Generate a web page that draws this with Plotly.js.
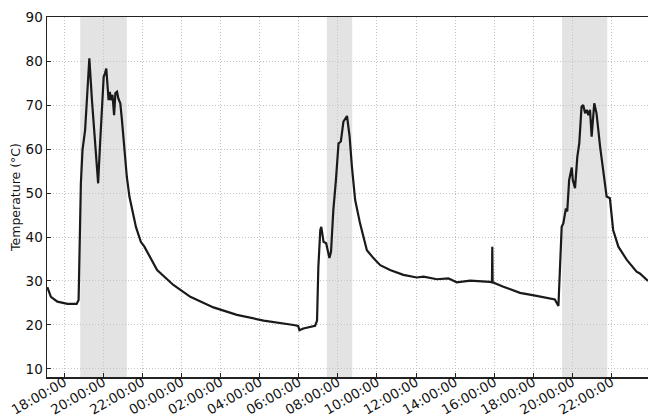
<!DOCTYPE html>
<html>
<head>
<meta charset="utf-8">
<script src="https://cdn.plot.ly/plotly-3.0.1.min.js"></script>
<style>
html,body{margin:0;padding:0;background:#fff;overflow:hidden;}
#chart{width:648px;height:418px;}
</style>
</head>
<body>
<div id="chart"></div>
<script>
// Timestamps of the temperature record
var times = [
"2014-06-10 17:08","2014-06-10 17:19","2014-06-10 17:39","2014-06-10 18:10","2014-06-10 18:38","2014-06-10 18:44",
"2014-06-10 18:51","2014-06-10 18:56","2014-06-10 19:04","2014-06-10 19:10","2014-06-10 19:17","2014-06-10 19:25",
"2014-06-10 19:32","2014-06-10 19:39","2014-06-10 19:44","2014-06-10 19:50","2014-06-10 19:56","2014-06-10 20:01",
"2014-06-10 20:05","2014-06-10 20:09","2014-06-10 20:13","2014-06-10 20:16","2014-06-10 20:20","2014-06-10 20:23",
"2014-06-10 20:28","2014-06-10 20:33","2014-06-10 20:37","2014-06-10 20:42","2014-06-10 20:46","2014-06-10 20:52",
"2014-06-10 20:57","2014-06-10 21:04","2014-06-10 21:12","2014-06-10 21:20","2014-06-10 21:30","2014-06-10 21:40",
"2014-06-10 21:55","2014-06-10 22:06","2014-06-10 22:45","2014-06-10 23:35","2014-06-11 00:27","2014-06-11 01:38",
"2014-06-11 02:50","2014-06-11 04:12","2014-06-11 05:44","2014-06-11 05:58","2014-06-11 06:02","2014-06-11 06:14",
"2014-06-11 06:50","2014-06-11 06:56","2014-06-11 07:00","2014-06-11 07:06","2014-06-11 07:09","2014-06-11 07:16",
"2014-06-11 07:24","2014-06-11 07:34","2014-06-11 07:39","2014-06-11 07:46","2014-06-11 07:54","2014-06-11 08:02",
"2014-06-11 08:09","2014-06-11 08:12","2014-06-11 08:17","2014-06-11 08:28","2014-06-11 08:36","2014-06-11 08:43",
"2014-06-11 08:53","2014-06-11 09:08","2014-06-11 09:29","2014-06-11 09:49","2014-06-11 10:10","2014-06-11 10:40",
"2014-06-11 11:21","2014-06-11 12:02","2014-06-11 12:23","2014-06-11 13:04","2014-06-11 13:39","2014-06-11 14:05",
"2014-06-11 14:46","2014-06-11 15:47","2014-06-11 15:53","2014-06-11 15:54","2014-06-11 15:55","2014-06-11 16:28",
"2014-06-11 17:19","2014-06-11 18:10","2014-06-11 19:06","2014-06-11 19:17","2014-06-11 19:24","2014-06-11 19:27",
"2014-06-11 19:32","2014-06-11 19:40","2014-06-11 19:44","2014-06-11 19:50","2014-06-11 19:58","2014-06-11 20:01",
"2014-06-11 20:08","2014-06-11 20:15","2014-06-11 20:21","2014-06-11 20:28","2014-06-11 20:33","2014-06-11 20:39",
"2014-06-11 20:44","2014-06-11 20:49","2014-06-11 20:54","2014-06-11 20:59","2014-06-11 21:07","2014-06-11 21:14",
"2014-06-11 21:25","2014-06-11 21:35","2014-06-11 21:45","2014-06-11 21:55","2014-06-11 22:05","2014-06-11 22:21",
"2014-06-11 22:47","2014-06-11 23:17","2014-06-11 23:27","2014-06-11 23:52"
];
// Temperature values (°C)
var temps = [
28.6,26.4,25.3,24.8,24.8,25.7,
52.2,59.8,64.3,71.1,80.6,71.1,
64.3,57.5,52.2,61.3,68.1,76.4,
77.2,78.3,74.2,71.1,73.0,71.1,
72.3,67.7,72.7,73.0,71.5,70.4,
66.6,59.8,53.7,49.2,45.4,42.3,
38.9,37.8,32.5,29.1,26.4,24.0,
22.3,21.0,20.0,19.8,18.8,19.2,
19.8,21.0,33.2,41.6,42.3,38.9,
38.6,35.2,36.7,46.1,53.0,61.3,
61.7,63.9,66.2,67.5,62.8,56.0,
48.4,43.1,37.0,35.2,33.6,32.5,
31.4,30.8,31.0,30.4,30.6,29.7,
30.1,29.8,29.7,37.8,29.7,28.7,
27.3,26.6,25.8,24.3,40.1,42.3,
43.1,46.5,45.8,53.0,55.8,53.0,
51.1,58.2,61.3,69.6,70.0,68.1,
68.9,67.7,68.9,62.8,70.4,68.1,
60.5,54.5,49.2,48.8,41.6,37.8,
34.8,32.1,31.7,30.0
];
// Shaded periods (start, end)
var shadeStarts = ["2014-06-10 18:49","2014-06-11 07:26","2014-06-11 19:28"];
var shadeEnds   = ["2014-06-10 21:12","2014-06-11 08:44","2014-06-11 21:47"];
var xRange = ["2014-06-10 17:07","2014-06-11 23:52"];
var yRange = [8.18, 90];
var yTicks = [10,20,30,40,50,60,70,80,90];

var shapes = shadeStarts.map(function(s,i){
  return {type:'rect', xref:'x', yref:'paper', x0:s, x1:shadeEnds[i], y0:0, y1:1,
          fillcolor:'#e3e3e3', line:{width:0}, layer:'below'};
});

var trace = {x:times, y:temps, type:'scatter', mode:'lines',
  line:{color:'#1a1a1a', width:2.2}, hoverinfo:'skip'};

var layout = {
  width:648, height:418,
  margin:{l:47, r:0, t:17, b:41},
  paper_bgcolor:'#ffffff', plot_bgcolor:'rgba(0,0,0,0)',
  showlegend:false,
  font:{family:'DejaVu Sans, sans-serif', size:12, color:'#111'},
  shapes:shapes,
  xaxis:{type:'date', range:xRange, tick0:'2014-06-10 18:00', dtick:7200000,
    tickformat:'%H:%M:%S', tickangle:-30, ticks:'inside', ticklen:4, tickcolor:'#222',
    ticklabelstandoff:-9,
    showgrid:true, gridcolor:'#c4c4c4', griddash:'1px,2px', gridwidth:1,
    showline:true, linecolor:'#222', linewidth:1.5, mirror:true,
    zeroline:false, tickfont:{size:13.5}},
  yaxis:{range:yRange, tickvals:yTicks, ticks:'inside', ticklen:4, tickcolor:'#222',
    showgrid:true, gridcolor:'#c4c4c4', griddash:'1px,2px', gridwidth:1,
    showline:true, linecolor:'#222', linewidth:1.5, mirror:false, zeroline:false,
    tickfont:{size:13.5},
    title:{text:'Temperature (°C)', font:{size:12.5}, standoff:2}}
};
Plotly.newPlot('chart',[trace],layout,{displayModeBar:false, staticPlot:true});
</script>
</body>
</html>
